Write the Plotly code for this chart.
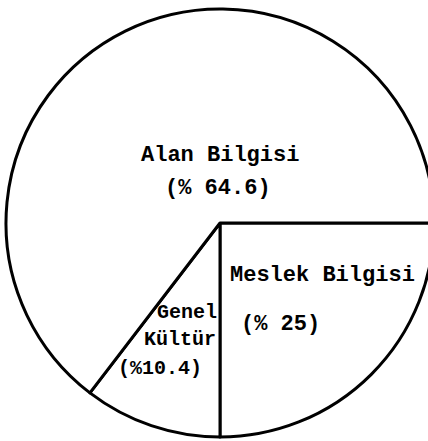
import plotly.graph_objects as go

categories = ["Meslek Bilgisi", "Genel Kültür", "Alan Bilgisi"]
values = [25, 10.4, 64.6]
label_lines = {
    "Alan Bilgisi": ["Alan Bilgisi", "(% 64.6)"],
    "Meslek Bilgisi": ["Meslek Bilgisi", "(% 25)"],
    "Genel Kültür": ["Genel", "Kültür", "(%10.4)"],
}

# figure is a little wider than the window so the circle is clipped at the right, as in the scan
W, H = 440, 441
cx, cy, r = 220, 223, 214  # pixel targets (from top-left)

fig = go.Figure(go.Pie(
    labels=categories,
    values=values,
    sort=False,
    direction="clockwise",
    rotation=90,
    textinfo="none",
    hoverinfo="label+percent",
    marker=dict(colors=["white"] * 3, line=dict(color="black", width=3)),
    domain=dict(x=[(cx - r) / W, min(1, (cx + r) / W)],
                y=[max(0, (H - cy - r) / H), min(1, (H - cy + r) / H)]),
    showlegend=False,
))

# label positions in pixels (centre x, centre y)
positions = {
    "Alan Bilgisi": [(220, 155), (218, 188)],
    "Meslek Bilgisi": [(322, 275), (280, 324)],
    "Genel Kültür": [(187, 312), (180, 339), (160, 368)],
}
sizes = {"Alan Bilgisi": 22, "Meslek Bilgisi": 22, "Genel Kültür": 20}
for cat in categories:
    font = dict(family="Liberation Mono, monospace", size=sizes[cat],
                color="black", weight="bold")
    for line, (px, py) in zip(label_lines[cat], positions[cat]):
        fig.add_annotation(x=px / W, y=1 - py / H, xref="paper", yref="paper",
                           text=line, showarrow=False, font=font,
                           xanchor="center", yanchor="middle")

fig.update_layout(width=W, height=H, margin=dict(l=0, r=0, t=0, b=0),
                  paper_bgcolor="white", plot_bgcolor="white")
fig.write_html("out.html", config={"displayModeBar": False},
               post_script="document.body.style.margin='0';document.body.style.overflow='hidden';")
